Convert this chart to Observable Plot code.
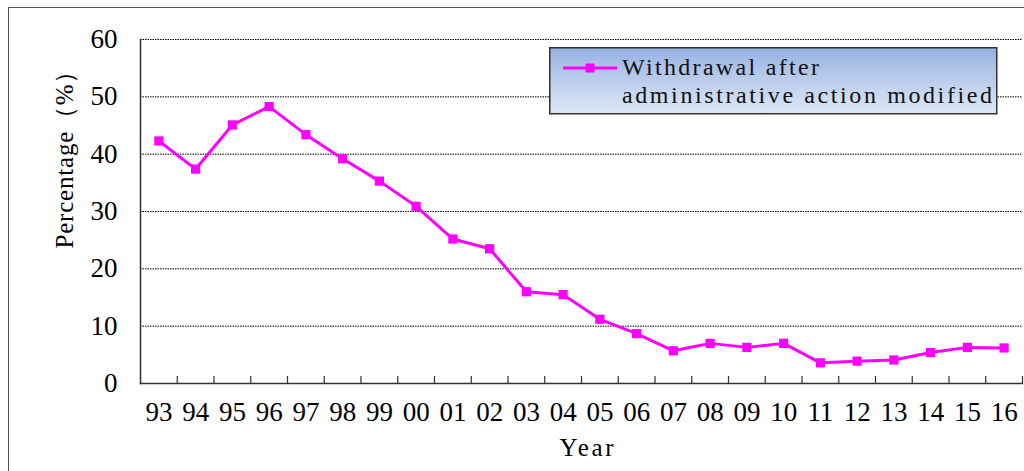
<!DOCTYPE html>
<html>
<head>
<meta charset="utf-8">
<script src="https://cdn.jsdelivr.net/npm/d3@7"></script>
<script src="https://cdn.jsdelivr.net/npm/@observablehq/plot@0.6"></script>
<style>
  body { margin: 0; background: #fff; }
  #wrap { position: relative; width: 1024px; height: 471px; overflow: hidden; background: #fff; }
  #border { position: absolute; left: 8px; top: 7px; width: 1100px; height: 600px; border: 1.5px solid #555; }
  #chart { position: absolute; left: 0; top: 0; }
  #legend { position: absolute; left: 549px; top: 47px; }
</style>
</head>
<body>
<div id="wrap">
  <div id="border"></div>
  <div id="chart"></div>
  <svg id="legend" width="450" height="68"></svg>
</div>
<script>
const years = ["93","94","95","96","97","98","99","00","01","02","03","04","05","06","07","08","09","10","11","12","13","14","15","16"];
const values = [42.3,37.4,45.1,48.3,43.4,39.2,35.3,30.9,25.2,23.5,16.0,15.5,11.2,8.7,5.7,7.0,6.3,7.0,3.6,3.9,4.1,5.4,6.3,6.2];
const yTicks = [0,10,20,30,40,50,60];
const seriesLines = ["Withdrawal after", "administrative action modified"];
const xTitle = "Year";
const yTitle = "Percentage（%）";
const lineColor = "#ff00ff";

const data = years.map((y, i) => ({i, year: y, value: values[i]}));
const idx = d3.range(years.length);

const chart = Plot.plot({
  width: 1024,
  height: 471,
  marginLeft: 140,
  marginRight: 2,
  marginTop: 39,
  marginBottom: 88,
  style: {fontFamily: "'Liberation Serif', serif", color: "#000", background: "transparent"},
  x: {type: "linear", domain: [-0.5, years.length - 0.5]},
  y: {domain: [0, 60]},
  marks: [
    Plot.ruleY(yTicks.filter(t => t > 0), {stroke: "#000", strokeDasharray: "1.5,1", strokeWidth: 1}),
    Plot.axisY(yTicks, {tickSize: 0, tickPadding: 23, fontSize: 27, label: null}),
    Plot.axisX(idx, {tickFormat: i => years[i], tickSize: 0, tickPadding: 18, fontSize: 27, label: null}),
    Plot.ruleX(idx.map(i => i + 0.5), {insetTop: 337, stroke: "#333", strokeWidth: 1.2}),
    Plot.frame({anchor: "left", stroke: "#333", strokeWidth: 1.5}),
    Plot.frame({anchor: "bottom", stroke: "#333", strokeWidth: 1.5}),
    Plot.line(data, {x: "i", y: "value", stroke: lineColor, strokeWidth: 3}),
    Plot.dot(data, {x: "i", y: "value", symbol: "square", fill: lineColor, stroke: "none", r: 5.2}),
    Plot.text([xTitle], {text: d => d, frameAnchor: "bottom", lineAnchor: "middle", dx: 5, dy: 64, fontSize: 25, className: "xtitle"}),
    Plot.text([yTitle], {text: d => d, frameAnchor: "left", rotate: -90, dx: -76, dy: 37, fontSize: 25, className: "ytitle"})
  ]
});
document.getElementById("chart").append(chart);
d3.select(chart).select(".xtitle text").attr("textLength", 54).attr("lengthAdjust", "spacing");
d3.select(chart).select(".ytitle text").attr("textLength", 190).attr("lengthAdjust", "spacing");

// Legend
const lg = d3.select("#legend");
const defs = lg.append("defs");
const grad = defs.append("linearGradient").attr("id", "lgrad").attr("x1", 0).attr("y1", 0).attr("x2", 0).attr("y2", 1);
grad.append("stop").attr("offset", "0%").attr("stop-color", "#97b2e1");
grad.append("stop").attr("offset", "100%").attr("stop-color", "#dfe8f6");
lg.append("rect").attr("x", 0.75).attr("y", 0.75).attr("width", 447).attr("height", 66)
  .attr("fill", "url(#lgrad)").attr("stroke", "#333").attr("stroke-width", 1.5);
lg.append("line").attr("x1", 14).attr("x2", 68).attr("y1", 21).attr("y2", 21)
  .attr("stroke", lineColor).attr("stroke-width", 3);
lg.append("rect").attr("x", 36.5).attr("y", 16.5).attr("width", 9).attr("height", 9).attr("fill", lineColor);
const lens = [197, 370];
seriesLines.forEach((t, k) => {
  lg.append("text").attr("x", 73).attr("y", 28 + k * 28)
    .attr("font-family", "'Liberation Serif', serif").attr("font-size", 24)
    .attr("textLength", lens[k]).attr("lengthAdjust", "spacing")
    .attr("fill", "#111").text(t);
});
</script>
</body>
</html>
